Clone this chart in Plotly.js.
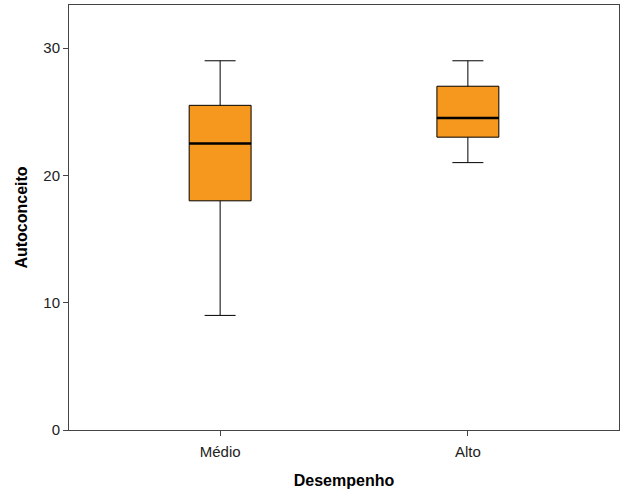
<!DOCTYPE html>
<html>
<head>
<meta charset="utf-8">
<script src="https://cdn.plot.ly/plotly-3.0.1.min.js"></script>
<style>html,body{margin:0;padding:0;background:#fff;}#chart{width:626px;height:501px;}</style>
</head>
<body>
<div id="chart"></div>
<script>
const categories = ['Médio', 'Alto'];
const lowerWhisker = [9, 21];
const q1Values = [18, 23];
const medianValues = [22.5, 24.5];
const q3Values = [25.5, 27];
const upperWhisker = [29, 29];
const yTickValues = [0, 10, 20, 30];

const boxTrace = {
  type: 'box',
  x: categories,
  q1: q1Values,
  median: medianValues,
  q3: q3Values,
  lowerfence: lowerWhisker,
  upperfence: upperWhisker,
  width: 0.25,
  whiskerwidth: 0.5,
  fillcolor: '#F7981E',
  line: {color: '#000000', width: 1},
  boxpoints: false,
  hoverinfo: 'skip',
  showlegend: false
};
const medianTrace = {
  type: 'box',
  x: categories,
  q1: medianValues,
  median: medianValues,
  q3: medianValues,
  lowerfence: medianValues,
  upperfence: medianValues,
  width: 0.25,
  whiskerwidth: 0,
  fillcolor: 'rgba(0,0,0,0)',
  line: {color: '#000000', width: 2.5},
  boxpoints: false,
  hoverinfo: 'skip',
  showlegend: false
};

const layout = {
  width: 626, height: 501,
  margin: {l: 69, r: 7, t: 5, b: 71},
  paper_bgcolor: '#ffffff', plot_bgcolor: '#ffffff',
  font: {family: 'Liberation Sans, Arial, sans-serif', color: '#222'},
  boxmode: 'overlay',
  xaxis: {
    type: 'category',
    range: [-0.61, 1.61],
    showline: true, mirror: true, linecolor: '#444', linewidth: 1,
    ticks: 'outside', ticklen: 5, tickcolor: '#444',
    ticklabelstandoff: 3,
    showgrid: false, zeroline: false,
    tickfont: {size: 15, color: '#222'},
    title: {text: 'Desempenho', font: {size: 16, weight: 'bold', color: '#000'}, standoff: 15}
  },
  yaxis: {
    range: [0, 33.38],
    tickvals: yTickValues,
    showline: true, mirror: true, linecolor: '#444', linewidth: 1,
    ticks: 'outside', ticklen: 5, tickcolor: '#444',
    showgrid: false, zeroline: false,
    tickfont: {size: 15, color: '#222'},
    title: {text: 'Autoconceito', font: {size: 16, weight: 'bold', color: '#000'}, standoff: 11}
  }
};
Plotly.newPlot('chart', [boxTrace, medianTrace], layout, {displayModeBar: false, staticPlot: true});
</script>
</body>
</html>
